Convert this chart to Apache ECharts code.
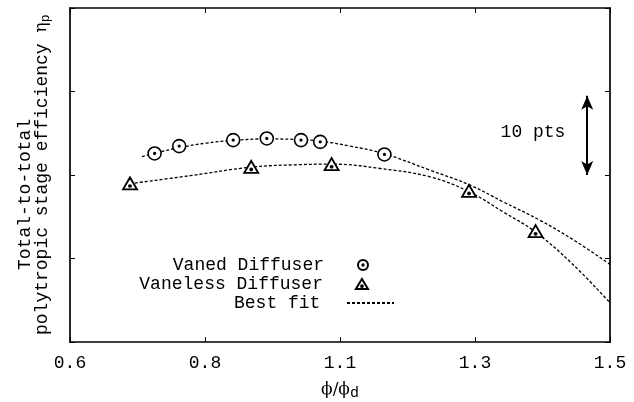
<!DOCTYPE html>
<html>
<head>
<meta charset="utf-8">
<script src="https://cdn.jsdelivr.net/npm/echarts@6/dist/echarts.min.js"></script>
<style>
  html, body { margin: 0; padding: 0; background: #fff; }
  #chart { width: 634px; height: 402px; }
</style>
</head>
<body>
<div id="chart"></div>
<script>
// ---- data ----
var xTickLabelsFormat = 1; // ticks printed with one decimal: 0.6 0.8 1.1 1.3 1.5
var vanedX = [0.741, 0.782, 0.872, 0.928, 0.985, 1.017, 1.124];
var vanedY = [72.58, 73.46, 74.18, 74.38, 74.18, 73.97, 72.46];
var vanelessX = [0.700, 0.902, 1.036, 1.265, 1.376];
var vanelessY = [68.99, 70.98, 71.30, 68.10, 63.27];
var fitVanedX = [0.72, 0.74, 0.782, 0.827, 0.872, 0.928, 0.985, 1.017, 1.067, 1.123, 1.2, 1.267, 1.322, 1.383, 1.442, 1.5];
var fitVanedY = [72.20, 72.58, 73.28, 73.82, 74.14, 74.32, 74.24, 74.06, 73.46, 72.56, 70.58, 68.78, 66.78, 64.59, 62.09, 59.30];
var fitVanelessX = [0.70, 0.8, 0.902, 0.983, 1.037, 1.117, 1.2, 1.265, 1.322, 1.375, 1.438, 1.5];
var fitVanelessY = [68.96, 69.92, 70.94, 71.24, 71.30, 70.78, 69.78, 68.00, 65.58, 63.21, 59.30, 54.70];
var arrowX = 1.462;
var arrowFrom = 79.5, arrowTo = 70;

function zip(xs, ys) { return xs.map(function (x, i) { return [x, ys[i]]; }); }

var MONO = '"Liberation Mono", "DejaVu Sans Mono", monospace';
var circleDot = 'path://M0,-10A10,10,0,1,1,0,10A10,10,0,1,1,0,-10ZM0,-1.3A1.3,1.3,0,1,1,0,1.3A1.3,1.3,0,1,1,0,-1.3Z';
var triDot = 'path://M0,-10L11.5,9L-11.5,9ZM0,2A1.6,1.6,0,1,1,0,5.2A1.6,1.6,0,1,1,0,2Z';

var chart = echarts.init(document.getElementById('chart'), null, { renderer: 'canvas' });

var axisCommon = {
  type: 'value',
  axisLine: { show: true, onZero: false, lineStyle: { color: '#000', width: 1.7 } },
  axisTick: { show: true, inside: true, length: 5, lineStyle: { color: '#000', width: 1 } },
  splitLine: { show: false }
};

var option = {
  backgroundColor: '#fff',
  animation: false,
  grid: { left: 70, right: 24, top: 8, bottom: 60, containLabel: false, outerBoundsMode: 'none' },
  xAxis: [
    Object.assign({}, axisCommon, {
      position: 'bottom', min: 0.6, max: 1.5, interval: 0.225,
      axisLabel: { show: true, margin: 12, color: '#000', fontFamily: MONO, fontSize: 18,
        formatter: function (v) { return v.toFixed(xTickLabelsFormat); } },
      name: '{a|ϕ/ϕ}{d|d}', nameLocation: 'middle', nameGap: 36,
      nameTextStyle: { color: '#000', rich: {
        a: { fontFamily: '"DejaVu Serif", serif', fontSize: 17, color: '#000' },
        d: { fontFamily: MONO, fontSize: 15, color: '#000', padding: [8, 0, 0, 0] }
      } }
    }),
    Object.assign({}, axisCommon, {
      position: 'top', min: 0.6, max: 1.5, interval: 0.225,
      axisLabel: { show: false }
    })
  ],
  yAxis: [
    Object.assign({}, axisCommon, { position: 'left', min: 50, max: 90, interval: 10, axisLabel: { show: false } }),
    Object.assign({}, axisCommon, { position: 'right', min: 50, max: 90, interval: 10, axisLabel: { show: false } })
  ],
  legend: [
    { data: ['Vaned Diffuser'], align: 'right', right: 265, top: 256, padding: 0,
      itemWidth: 68, itemHeight: 10, selectedMode: false,
      textStyle: { fontFamily: MONO, fontSize: 18, color: '#000' } },
    { data: ['Vaneless Diffuser'], align: 'right', right: 265, top: 275, padding: 0,
      itemWidth: 68, itemHeight: 10, selectedMode: false,
      textStyle: { fontFamily: MONO, fontSize: 18, color: '#000' } },
    { data: ['Best fit'], align: 'right', right: 239, top: 294, padding: 0,
      itemWidth: 47, itemHeight: 10, selectedMode: false,
      formatter: function (n) { return n + '  '; },
      textStyle: { fontFamily: MONO, fontSize: 18, color: '#000' } }
  ],
  series: [
    { name: 'Best fit', type: 'line', smooth: 0.4, symbol: 'none',
      data: zip(fitVanedX, fitVanedY), z: 2,
      lineStyle: { color: '#000', width: 1.3, type: [3, 2] },
      itemStyle: { color: 'rgba(0,0,0,0)', borderColor: 'rgba(0,0,0,0)', borderWidth: 0 },
      markLine: {
        silent: true, symbol: ['arrow', 'arrow'], symbolSize: [9, 14],
        label: { show: false },
        lineStyle: { color: '#000', width: 2, type: 'solid' },
        data: [[{ coord: [arrowX, arrowFrom] }, { coord: [arrowX, arrowTo] }]]
      } },
    { name: 'Best fit', type: 'line', smooth: 0.4, symbol: 'none',
      data: zip(fitVanelessX, fitVanelessY), z: 2,
      lineStyle: { color: '#000', width: 1.3, type: [3, 2] },
      itemStyle: { color: 'rgba(0,0,0,0)', borderColor: 'rgba(0,0,0,0)', borderWidth: 0 } },
    { name: 'Vaned Diffuser', type: 'scatter', symbol: circleDot, symbolSize: 13, z: 5,
      data: zip(vanedX, vanedY),
      itemStyle: { color: '#fff', borderColor: '#000', borderWidth: 1.6, opacity: 1 } },
    { name: 'Vaneless Diffuser', type: 'scatter', symbol: triDot, symbolSize: [14, 12], z: 5,
      data: zip(vanelessX, vanelessY),
      itemStyle: { color: '#fff', borderColor: '#000', borderWidth: 1.8, opacity: 1 } }
  ],
  graphic: [
    { type: 'text', x: 25, y: 270, rotation: Math.PI / 2,
      style: { text: 'Total-to-total', font: '18px ' + MONO, fill: '#000', align: 'left', verticalAlign: 'middle' } },
    { type: 'text', x: 42, y: 335, rotation: Math.PI / 2,
      style: { text: 'polytropic stage efficiency {eta|η}{sub|p}', font: '18px ' + MONO, fill: '#000',
        align: 'left', verticalAlign: 'middle',
        rich: { eta: { fontFamily: '"DejaVu Serif", serif', fontSize: 17, fill: '#000' },
                sub: { fontFamily: MONO, fontSize: 13, fill: '#000', padding: [8, 0, 0, 0] } } } },
    { type: 'text', x: 533, y: 132,
      style: { text: '10 pts', font: '18px ' + MONO, fill: '#000', align: 'center', verticalAlign: 'middle' } }
  ]
};
chart.setOption(option);
</script>
</body>
</html>
